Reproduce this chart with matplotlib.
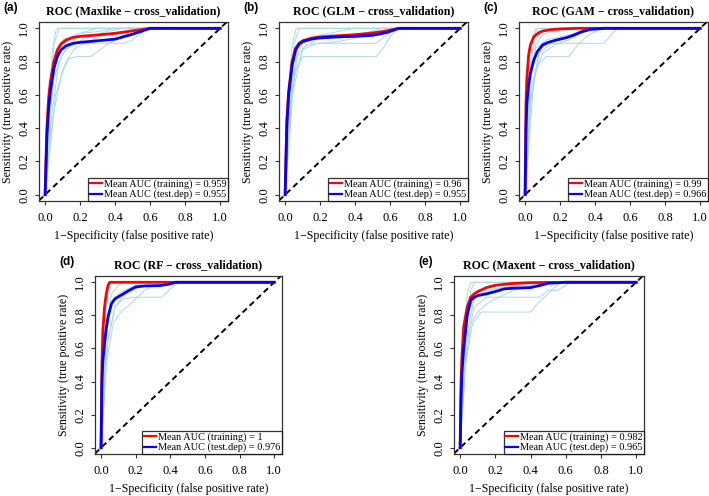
import matplotlib
matplotlib.use("Agg")
import matplotlib.pyplot as plt

plt.rcParams['font.family'] = ['Liberation Serif', 'DejaVu Serif']

# ---- data: (1-specificity, sensitivity) pairs ----
titles = ["ROC (Maxlike \u2212 cross_validation)", "ROC (GLM \u2212 cross_validation)",
          "ROC (GAM \u2212 cross_validation)", "ROC (RF \u2212 cross_validation)",
          "ROC (Maxent \u2212 cross_validation)"]
tags = ["(a)", "(b)", "(c)", "(d)", "(e)"]
auc_train = ["0.959", "0.96", "0.99", "1", "0.982"]
auc_test = ["0.955", "0.955", "0.966", "0.976", "0.965"]

maxlike_train = [(0, 0), (0.01, 0.4), (0.02, 0.58), (0.03, 0.68), (0.05, 0.8), (0.07, 0.87),
                 (0.09, 0.905), (0.12, 0.93), (0.16, 0.945), (0.2, 0.952), (0.3, 0.96),
                 (0.4, 0.97), (0.5, 0.985), (0.6, 1), (1, 1)]
maxlike_test = [(0, 0), (0.01, 0.35), (0.02, 0.52), (0.03, 0.62), (0.05, 0.76), (0.07, 0.83),
                (0.09, 0.87), (0.12, 0.895), (0.16, 0.91), (0.2, 0.916), (0.3, 0.925),
                (0.4, 0.935), (0.5, 0.965), (0.6, 1), (1, 1)]
maxlike_folds = [
    [(0, 0), (0.02, 0.5), (0.04, 0.85), (0.06, 0.98), (0.07, 1), (1, 1)],
    [(0, 0), (0.03, 0.6), (0.05, 0.9), (0.08, 1), (1, 1)],
    [(0, 0), (0.03, 0.5), (0.06, 0.8), (0.1, 0.9), (0.15, 0.95), (0.2, 0.97), (0.3, 1), (1, 1)],
    [(0, 0), (0.05, 0.5), (0.1, 0.75), (0.14, 0.82), (0.18, 0.83), (0.26, 0.83), (0.3, 0.86),
     (0.35, 0.9), (0.4, 0.93), (0.45, 0.96), (0.5, 0.99), (0.55, 1), (1, 1)],
    [(0, 0), (0.04, 0.5), (0.08, 0.8), (0.12, 0.88), (0.18, 0.91), (0.45, 0.91), (0.5, 0.93),
     (0.55, 0.97), (0.58, 1), (1, 1)],
    [(0, 0), (0.02, 0.4), (0.05, 0.7), (0.1, 0.85), (0.15, 0.9), (0.25, 0.95), (0.35, 0.98),
     (0.45, 1), (1, 1)],
    [(0, 0), (0.03, 0.55), (0.06, 0.85), (0.1, 0.93), (0.2, 0.97), (0.3, 0.98), (0.4, 1), (1, 1)],
    [(0, 0), (0.06, 0.6), (0.12, 0.8), (0.17, 0.88), (0.25, 0.92), (0.35, 0.96), (0.45, 0.97),
     (0.5, 1), (1, 1)],
]

glm_train = [(0, 0), (0.01, 0.45), (0.02, 0.62), (0.04, 0.8), (0.06, 0.88), (0.08, 0.91),
             (0.1, 0.925), (0.15, 0.94), (0.2, 0.948), (0.3, 0.955), (0.4, 0.962),
             (0.5, 0.972), (0.58, 0.985), (0.65, 1), (1, 1)]
glm_test = [(0, 0), (0.01, 0.42), (0.02, 0.6), (0.04, 0.78), (0.06, 0.87), (0.08, 0.905),
            (0.1, 0.92), (0.15, 0.935), (0.2, 0.943), (0.3, 0.948), (0.4, 0.952),
            (0.5, 0.958), (0.58, 0.975), (0.65, 1), (1, 1)]
glm_folds = [
    [(0, 0), (0.02, 0.6), (0.04, 0.9), (0.06, 0.99), (0.07, 1), (1, 1)],
    [(0, 0), (0.03, 0.6), (0.05, 0.9), (0.08, 1), (1, 1)],
    [(0, 0), (0.03, 0.5), (0.06, 0.75), (0.1, 0.83), (0.52, 0.83), (0.56, 0.88), (0.6, 0.95),
     (0.64, 1), (1, 1)],
    [(0, 0), (0.03, 0.55), (0.07, 0.83), (0.12, 0.9), (0.2, 0.91), (0.52, 0.91), (0.57, 0.95),
     (0.62, 0.99), (0.65, 1), (1, 1)],
    [(0, 0), (0.03, 0.6), (0.07, 0.88), (0.12, 0.94), (0.25, 0.96), (0.5, 0.96), (0.58, 0.98),
     (0.65, 1), (1, 1)],
    [(0, 0), (0.04, 0.6), (0.1, 0.88), (0.18, 0.93), (0.3, 0.95), (0.45, 0.97), (0.55, 1), (1, 1)],
    [(0, 0), (0.02, 0.5), (0.05, 0.8), (0.1, 0.91), (0.15, 0.95), (0.25, 0.97), (0.4, 1), (1, 1)],
    [(0, 0), (0.05, 0.7), (0.1, 0.87), (0.18, 0.91), (0.3, 0.92), (0.45, 0.95), (0.55, 0.96),
     (0.62, 1), (1, 1)],
]

gam_train = [(0, 0), (0.005, 0.55), (0.01, 0.7), (0.02, 0.84), (0.03, 0.9), (0.05, 0.95),
             (0.08, 0.975), (0.1, 0.984), (0.15, 0.992), (0.2, 0.996), (0.3, 1), (1, 1)]
gam_test = [(0, 0), (0.005, 0.4), (0.01, 0.55), (0.02, 0.66), (0.03, 0.73), (0.05, 0.81),
            (0.07, 0.86), (0.1, 0.9), (0.13, 0.915), (0.18, 0.93), (0.24, 0.945), (0.28, 0.96),
            (0.32, 0.978), (0.37, 0.993), (0.45, 1), (1, 1)]
gam_folds = [
    [(0, 0), (0.02, 0.6), (0.04, 0.93), (0.06, 1), (1, 1)],
    [(0, 0), (0.03, 0.7), (0.05, 0.95), (0.07, 1), (1, 1)],
    [(0, 0), (0.03, 0.55), (0.07, 0.78), (0.12, 0.83), (0.25, 0.83), (0.3, 0.9), (0.35, 0.95),
     (0.4, 0.98), (0.45, 1), (1, 1)],
    [(0, 0), (0.03, 0.6), (0.08, 0.85), (0.15, 0.91), (0.45, 0.91), (0.5, 0.97), (0.53, 1), (1, 1)],
    [(0, 0), (0.02, 0.6), (0.06, 0.88), (0.12, 0.93), (0.2, 0.95), (0.3, 0.97), (0.38, 1), (1, 1)],
    [(0, 0), (0.04, 0.65), (0.09, 0.88), (0.15, 0.92), (0.2, 0.93), (0.3, 0.98), (0.35, 1), (1, 1)],
    [(0, 0), (0.03, 0.7), (0.06, 0.9), (0.1, 0.96), (0.2, 1), (1, 1)],
    [(0, 0), (0.05, 0.7), (0.1, 0.85), (0.17, 0.9), (0.25, 0.93), (0.32, 0.97), (0.37, 1), (1, 1)],
]

rf_train = [(0, 0), (0.005, 0.5), (0.01, 0.7), (0.02, 0.85), (0.03, 0.93), (0.04, 0.98),
            (0.05, 1), (1, 1)]
rf_test = [(0, 0), (0.005, 0.4), (0.01, 0.52), (0.02, 0.63), (0.03, 0.72), (0.04, 0.79),
           (0.06, 0.87), (0.08, 0.9), (0.12, 0.925), (0.16, 0.95), (0.2, 0.972), (0.25, 0.978),
           (0.34, 0.98), (0.4, 0.99), (0.43, 1), (1, 1)]
rf_folds = [
    [(0, 0), (0.02, 0.7), (0.04, 0.95), (0.06, 1), (1, 1)],
    [(0, 0), (0.03, 0.7), (0.06, 0.93), (0.1, 0.98), (0.13, 1), (1, 1)],
    [(0, 0), (0.03, 0.5), (0.07, 0.75), (0.12, 0.83), (0.16, 0.86), (0.2, 0.9), (0.25, 0.95),
     (0.3, 0.98), (0.35, 1), (1, 1)],
    [(0, 0), (0.03, 0.6), (0.08, 0.85), (0.13, 0.9), (0.2, 0.91), (0.35, 0.91), (0.4, 0.96),
     (0.45, 1), (1, 1)],
    [(0, 0), (0.02, 0.6), (0.06, 0.88), (0.1, 0.93), (0.15, 0.96), (0.2, 0.98), (0.25, 1), (1, 1)],
    [(0, 0), (0.04, 0.65), (0.08, 0.85), (0.13, 0.92), (0.2, 0.96), (0.28, 0.99), (0.32, 1), (1, 1)],
]

maxent_train = [(0, 0), (0.005, 0.4), (0.01, 0.55), (0.02, 0.73), (0.04, 0.85), (0.06, 0.91),
                (0.08, 0.93), (0.1, 0.944), (0.15, 0.968), (0.2, 0.982), (0.3, 0.993),
                (0.4, 0.998), (0.6, 1), (1, 1)]
maxent_test = [(0, 0), (0.005, 0.3), (0.01, 0.45), (0.02, 0.6), (0.04, 0.8), (0.06, 0.89),
               (0.08, 0.91), (0.1, 0.92), (0.15, 0.93), (0.2, 0.944), (0.25, 0.96), (0.3, 0.964),
               (0.4, 0.968), (0.45, 0.98), (0.5, 0.994), (0.6, 1), (1, 1)]
maxent_folds = [
    [(0, 0), (0.02, 0.6), (0.04, 0.93), (0.06, 1), (1, 1)],
    [(0, 0), (0.03, 0.65), (0.06, 0.95), (0.08, 1), (1, 1)],
    [(0, 0), (0.03, 0.5), (0.07, 0.75), (0.12, 0.82), (0.4, 0.82), (0.44, 0.87), (0.48, 0.91),
     (0.52, 0.95), (0.56, 0.99), (0.6, 1), (1, 1)],
    [(0, 0), (0.03, 0.6), (0.08, 0.85), (0.15, 0.91), (0.45, 0.91), (0.5, 0.95), (0.55, 0.95),
     (0.6, 0.98), (0.63, 1), (1, 1)],
    [(0, 0), (0.02, 0.55), (0.05, 0.85), (0.1, 0.92), (0.2, 0.96), (0.3, 0.98), (0.4, 1), (1, 1)],
    [(0, 0), (0.04, 0.7), (0.08, 0.9), (0.15, 0.95), (0.25, 0.97), (0.35, 0.98), (0.45, 0.99),
     (0.5, 1), (1, 1)],
    [(0, 0), (0.03, 0.5), (0.06, 0.75), (0.1, 0.82), (0.15, 0.87), (0.2, 0.9), (0.3, 0.95),
     (0.4, 0.98), (0.5, 1), (1, 1)],
]

trains = [maxlike_train, glm_train, gam_train, rf_train, maxent_train]
tests = [maxlike_test, glm_test, gam_test, rf_test, maxent_test]
folds = [maxlike_folds, glm_folds, gam_folds, rf_folds, maxent_folds]

# axes boxes in pixels (left, top, right, bottom)
W, H = 709, 496
boxes = [(39, 22, 228, 201), (279, 22, 468, 201), (519, 22, 708, 201),
         (95, 276, 282, 454), (454, 276, 644, 454)]

fig = plt.figure(figsize=(W / 100, H / 100), dpi=100)

for i in range(5):
    x0, y0, x1, y1 = boxes[i]
    ax = fig.add_axes([x0 / W, 1 - y1 / H, (x1 - x0) / W, (y1 - y0) / H])

    for f in folds[i]:
        ax.plot([p[0] for p in f], [p[1] for p in f], color='#add8e6', lw=0.7, zorder=1)
    ax.axline((0, 0), (1, 1), color='black', lw=1.4, dashes=(3, 2), zorder=2)
    ax.plot([p[0] for p in trains[i]], [p[1] for p in trains[i]], color='red', lw=2.0,
            label=f"Mean AUC (training) = {auc_train[i]}", zorder=3)
    ax.plot([p[0] for p in tests[i]], [p[1] for p in tests[i]], color='blue', lw=2.0,
            label=f"Mean AUC (test.dep) = {auc_test[i]}", zorder=4)

    ax.set_xlim(-0.035, 1.045)
    ax.set_ylim(-0.038, 1.038)
    ticks = [0, 0.2, 0.4, 0.6, 0.8, 1.0]
    ax.set_xticks(ticks)
    ax.set_yticks(ticks)
    ax.set_xticklabels([f"{t:.1f}" for t in ticks])
    ax.set_yticklabels([f"{t:.1f}" for t in ticks], rotation=90, va='center')
    ax.tick_params(length=3.2, width=0.8, labelsize=9, color='#333333')
    ax.tick_params(axis='x', pad=5)
    ax.tick_params(axis='y', pad=3)
    for s in ax.spines.values():
        s.set_linewidth(0.9)
        s.set_color('#333333')

    ax.set_xlabel("1\u2212Specificity (false positive rate)", fontsize=8.6, labelpad=4)
    ax.set_ylabel("Sensitivity (true positive rate)", fontsize=8.6, labelpad=3)
    ax.set_title(titles[i], fontsize=8.6, fontweight='bold', pad=5.5)

    leg = ax.legend(loc='lower right', fontsize=7.4, frameon=True, fancybox=False,
                    borderaxespad=0, borderpad=0.15, handlelength=1.2, handletextpad=0.2,
                    labelspacing=0.05)
    leg.get_frame().set_edgecolor('black')
    leg.get_frame().set_linewidth(0.9)
    for ln in leg.get_lines():
        ln.set_linewidth(1.6)

    fig.text((x0 - 36) / W, 1 - (y0 - 14) / H, tags[i],
             fontsize=8.5, fontweight='bold', family='Liberation Sans', va='center', ha='left')

fig.savefig("out.png", dpi=100)
